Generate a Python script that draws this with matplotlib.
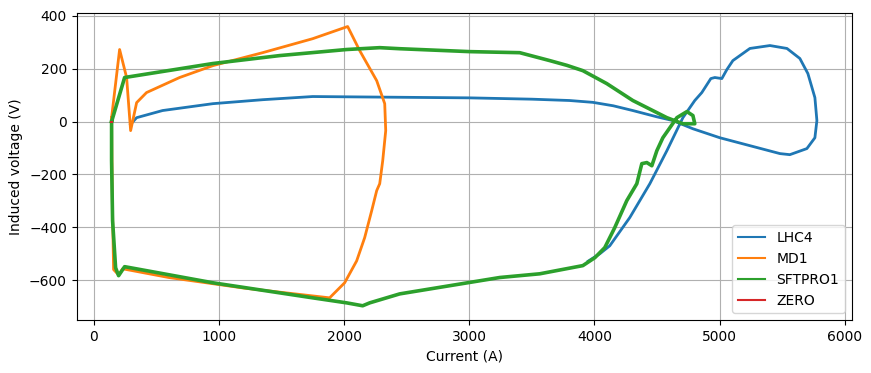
import numpy as np
import matplotlib.pyplot as plt

# LHC4 cycle (current in A, induced voltage in V)
lhc4_i = [296, 344, 551, 953, 1350, 1750, 2500, 3000, 3500, 3800, 3987, 4150, 4306, 4500,
          4626, 4786, 5001, 5297, 5481, 5560, 5696, 5760, 5776, 5760, 5704, 5640, 5537,
          5401, 5241, 5105, 5057, 5017, 4961, 4929, 4857, 4801, 4706, 4578, 4442, 4282,
          4122, 4043, 3950]
lhc4_v = [-10, 15, 42, 68, 83, 95, 92, 90, 85, 80, 73, 60, 42, 18,
          4, -27, -61, -98, -121, -125, -102, -61, 4, 91, 182, 239, 277,
          288, 277, 231, 197, 163, 167, 163, 110, 80, 15, -110, -235, -363,
          -470, -500, -528]

# MD1 cycle
md1_i = [144, 208, 264, 296, 344, 423, 687, 953, 1350, 1750, 2029, 2125, 2261, 2325,
         2333, 2309, 2285, 2261, 2221, 2165, 2101, 2005, 1885, 1200, 600, 232, 200,
         160, 150, 144]
md1_v = [15, 273, 167, -34, 72, 110, 167, 212, 261, 314, 360, 269, 155, 68,
         -34, -148, -235, -261, -337, -439, -527, -610, -667, -630, -590, -557, -580,
         -560, -300, 15]

# SFTPRO1 cycle
sft_i = [144, 248, 953, 1486, 2021, 2285, 2445, 3004, 3403, 3643, 3780, 3907, 4098, 4306,
         4578, 4706, 4801, 4786, 4738, 4658, 4546, 4498, 4458, 4418, 4378, 4338, 4258,
         4162, 4082, 4003, 3907, 3563, 3244, 2445, 2205, 2149, 2021, 1750, 953, 248, 200,
         176, 152, 144, 144]
sft_v = [0, 167, 220, 250, 273, 280, 276, 265, 261, 231, 213, 193, 144, 80,
         15, -8, -8, 23, 38, 15, -61, -110, -167, -155, -159, -235, -299,
         -401, -477, -515, -545, -576, -590, -652, -686, -697, -686, -667, -610, -549, -583,
         -553, -375, -148, 0]

# ZERO cycle
zero_i = [140, 148]
zero_v = [0, 0]

fig, ax = plt.subplots(figsize=(8.71, 3.73), dpi=100)
fig.subplots_adjust(left=0.088, right=0.978, top=0.965, bottom=0.142)

ax.plot(lhc4_i, lhc4_v, label='LHC4', lw=2)
ax.plot(md1_i, md1_v, label='MD1', lw=2)
ax.plot(sft_i, sft_v, label='SFTPRO1', lw=2.6)
ax.plot(zero_i, zero_v, label='ZERO')

ax.set_xlim(-135, 6055)
ax.set_ylim(-751, 411)
ax.set_xlabel('Current (A)')
ax.set_ylabel('Induced voltage (V)')
ax.grid(True)
leg = ax.legend(loc='lower right')
for line in leg.get_lines():
    line.set_linewidth(1.5)

fig.savefig('out.png')
